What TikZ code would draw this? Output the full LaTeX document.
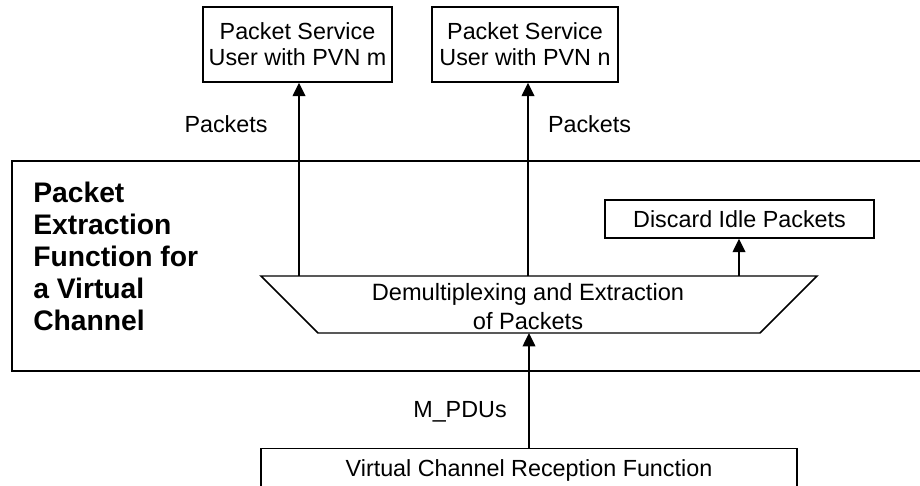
\documentclass[tikz,border=0pt]{standalone}
\usepackage{fontspec}
\setmainfont{Liberation Sans}
\usetikzlibrary{arrows.meta}
\tikzstyle{line} = [line width=1.1pt, -{Triangle[length=10pt,width=9.5pt]}]
\tikzstyle{frame} = [line width=1.1pt]
\tikzstyle{block} = [draw, line width=1.1pt, rectangle, align=center, inner sep=0pt, font=\fontsize{17.5}{19.5}\selectfont]
\tikzstyle{lbl} = [inner sep=0pt, font=\fontsize{17.5}{19.5}\selectfont]
\tikzstyle{title} = [inner sep=0pt, align=left, font=\bfseries\fontsize{21.2}{24}\selectfont]

\begin{document}
\begin{tikzpicture}[x=0.75pt,y=-0.75pt]
        \useasboundingbox (0,0) rectangle (920,485);
        \clip (0,0) rectangle (920,485);
        % function frame, open to the right
        \draw[frame] (12,161) rectangle (940,371);
        \node[title, anchor=north west] (Titulo) at (33,182) {Packet\\Extraction\\Function for\\a Virtual\\Channel};
        % users
        \node[block, minimum width=141.75pt, minimum height=56.25pt] (UserM) at (297.5,44.5) {Packet Service\\User with PVN m};
        \node[block, minimum width=139.5pt, minimum height=56.25pt] (UserN) at (525,44.5) {Packet Service\\User with PVN n};
        \node[block, minimum width=201.75pt, minimum height=28.5pt] (Discard) at (739.5,219) {Discard Idle Packets};
        % demultiplexer
        \draw[frame] (261,276) coordinate (TL) -- (817,276) coordinate (TR) -- (760,333) coordinate (BR) -- (318,333) coordinate (BL) -- cycle;
        \node[lbl, align=center, font=\fontsize{17.7}{21.75}\selectfont] (Demux) at (528,307) {Demultiplexing and Extraction\\of Packets};
        \coordinate (OutM) at (299,276);
        \coordinate (OutN) at (528,276);
        \coordinate (OutD) at (739,276);
        \coordinate (In) at (529,333);
        % reception function
        \node[block, anchor=north, minimum width=402pt, minimum height=33pt] (VCRF) at (529,448) {Virtual Channel Reception Function};
        % flows
        \draw[line] (OutM) -- (OutM |- UserM.south);
        \draw[line] (OutN) -- (OutN |- UserN.south);
        \draw[line] (OutD) -- (OutD |- Discard.south);
        \draw[line] (VCRF) -- (In);
        \node[lbl] (PacketsM) at (226,124) {Packets};
        \node[lbl] (PacketsN) at (589.5,124) {Packets};
        \node[lbl] (MPDUs) at (460,412) {M\_PDUs};
    \end{tikzpicture}
\end{document}
